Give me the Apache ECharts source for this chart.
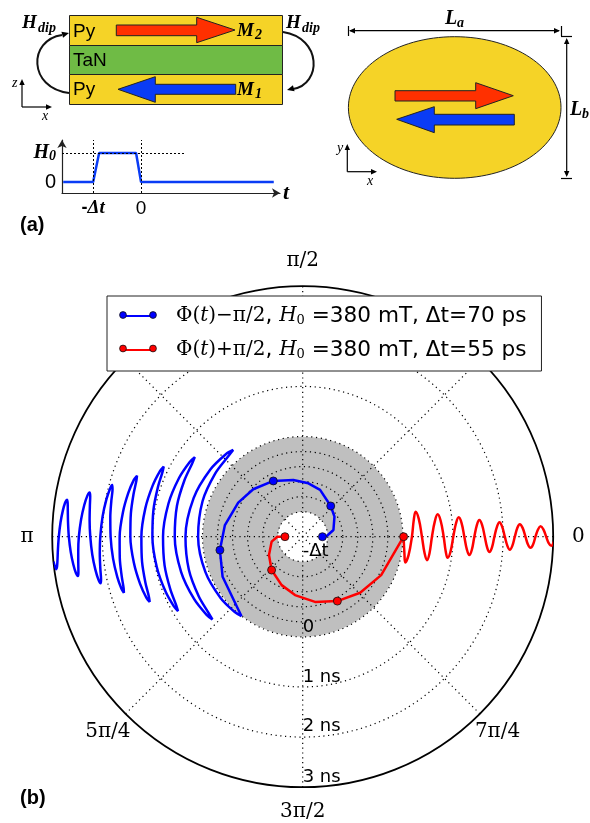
<!DOCTYPE html>
<html><head><meta charset="utf-8">
<style>html,body{margin:0;padding:0;background:#fff}#c{width:590px;height:823px}</style>
<script src="https://cdn.jsdelivr.net/npm/echarts@6/dist/echarts.min.js"></script>
</head><body><div id="c"></div>
<script>
// ---- polar panel data: radial position (ns, axis stretched below 0) and phase (degrees)
const blueDriveTime = [-1.606,-1.52,-1.372,-1.25,-1.17,-1.004,-0.928,-0.852,-0.742,-0.632,-0.544,-0.43,-0.326,-0.212,0.002];
const blueDrivePhase = [0,1.6,12.3,32.3,47.6,69.6,83.9,99.4,117.8,136.2,152.1,171.5,189.2,206.6,232.4];
const blueFreeTime = [0.002,0.0235,0.045,0.0665,0.088,0.121,0.154,0.187,0.22,0.25,0.28,0.31,0.34,0.366,0.392,0.418,0.444,0.4715,0.499,0.5265,0.554,0.5845,0.615,0.6455,0.676,0.704,0.732,0.76,0.788,0.8155,0.843,0.8705,0.898,0.9235,0.949,0.9745,1.0,1.027,1.054,1.081,1.108,1.136,1.164,1.192,1.22,1.245,1.27,1.295,1.32,1.35,1.38,1.41,1.44,1.461,1.482,1.503,1.524,1.5565,1.589,1.6215,1.654,1.6755,1.697,1.7185,1.74,1.7635,1.787,1.8105,1.834,1.86,1.886,1.912,1.938,1.9635,1.989,2.0145,2.04,2.065,2.09,2.115,2.14,2.165,2.19,2.215,2.24,2.266,2.292,2.318,2.344,2.375,2.406,2.437,2.468,2.49,2.512,2.534,2.556,2.584,2.612,2.64,2.668,2.692,2.716,2.74,2.764,2.79,2.816,2.842,2.868,2.8915,2.915,2.9385,2.962,3.0];
const blueFreePhase = [232.4,228.2,216.7,199.9,180,160.5,144.1,132.8,128.7,132.8,144.1,160.5,180,196.2,209.8,219.1,222.5,219.1,209.8,196.2,180,166.2,154.5,146.5,143.6,146.5,154.5,166.2,180,191.7,201.6,208.3,210.8,208.3,201.6,191.7,180,169.8,161.2,155.3,153.2,155.3,161.2,169.8,180,188.8,196.2,201.3,203.1,201.3,196.2,188.8,180,172.3,165.9,161.4,159.8,161.4,165.9,172.3,180,186.6,192.2,196,197.4,196,192.2,186.6,180,174.2,169.4,166,164.8,166,169.4,174.2,180,184.9,189.1,192,193,192,189.1,184.9,180,175.6,171.8,169.2,168.3,169.2,171.8,175.6,180,183.8,186.9,189.1,189.9,189.1,186.9,183.8,180,176.6,173.8,171.8,171.1,171.8,173.8,176.6,180,182.9,185.3,186.9,187.5,185.7];
const blueMarkerTime = [-1.606,-1.17,-0.742,-0.326];
const blueMarkerPhase = [0,47.6,117.8,189.2];
const redDriveTime = [-1.646,-1.494,-1.372,-1.234,-1.09,-0.946,-0.824,-0.676,-0.54,-0.398,-0.256,0.014];
const redDrivePhase = [180,180,189,208.6,227,246.5,262.5,280.7,298.3,315.7,333.9,360];
const redFreeTime = [0.014,0.062,0.11,0.145,0.18,0.244,0.308,0.344,0.38,0.452,0.524,0.552,0.58,0.655,0.73,0.772,0.814,0.869,0.924,0.965,1.006,1.072,1.138,1.182,1.226,1.286,1.346,1.386,1.426,1.484,1.542,1.588,1.634,1.687,1.74,1.783,1.826,1.882,1.938,1.986,2.034,2.088,2.142,2.188,2.234,2.287,2.34,2.393,2.446,2.499,2.552,2.599,2.646,2.699,2.752,2.806,2.86,2.912,2.964,3.014];
const redFreePhase = [0,-9.9,-14.1,-9.9,0,8.75,12.5,8.75,0,-7.5,-10.7,-7.5,0,6.6,9.4,6.6,0,-5.8,-8.3,-5.8,0,5,7.1,5,0,-4.4,-6.3,-4.4,0,3.8,5.4,3.8,0,-3.3,-4.7,-3.3,0,2.9,4.2,2.9,0,-2.5,-3.6,-2.5,0,2.3,3.3,2.3,0,-2,-2.8,-2,0,1.75,2.5,1.75,0,-1.5,-2.1,-1.1];
const redMarkerTime = [-1.646,-1.09,-0.54,0.014];
const redMarkerPhase = [180,227,298.3,360];
// ---- tick labels
const angleTickAngles = [0,90,180,225,270,315];
const angleTickLabels = ['0','π/2','π','5π/4','3π/2','7π/4'];
const radialTickPos = [-1.714,-0.194,0.806,1.786,2.806];
const radialTickLabels = ['-Δt','0','1 ns','2 ns','3 ns'];
// rings, counted in steps of the 0.1 radial interval from -2
const ringSteps = [5,8,11,14,17,20,30,40];
// ---- pulse inset
const pulseT = [-1.625,-1,-0.875,-0.104,0,2.77];
const pulseH = [0,0,1,1,0,0];

const BLUE='#0000ff', RED='#ff0000', PBLUE='#0a3cf5', PRED='#ff3000', YEL='#f5d327', GRN='#6fbb45';
const zip=(a,b)=>a.map((v,i)=>[v,b[i]]);
const SER='"Liberation Serif"', SANS='"Liberation Sans"', DV='"DejaVu Sans"';

const blueName='Φ(t)−π/2, H0=380 mT, Δt=70 ps', redName='Φ(t)+π/2, H0=380 mT, Δt=55 ps';
const lineS=(name,d,c,smooth)=>({type:'line',name,coordinateSystem:'polar',polarIndex:0,data:d,showSymbol:false,symbol:'none',clip:false,smooth,
  lineStyle:{color:c,width:2.5},itemStyle:{color:c},silent:true,z:3,animation:false});
const markS=(d,c)=>({type:'scatter',coordinateSystem:'polar',polarIndex:0,data:d,symbol:'circle',symbolSize:8,clip:false,silent:true,z:4,
  itemStyle:{color:c,borderColor:'#111',borderWidth:0.8,opacity:1}});

const rich={
 m:{fontFamily:'"DejaVu Serif"',fontSize:20,color:'#000'},
 i:{fontFamily:'"DejaVu Serif"',fontStyle:'italic',fontSize:20,color:'#000'},
 s:{fontFamily:'"DejaVu Serif"',fontSize:13,color:'#000',verticalAlign:'bottom',padding:[8,0,0,0]},
 d:{fontFamily:DV,fontSize:21.6,color:'#000'}
};
const legendText=n=> n===blueName
 ? '{m|Φ(}{i|t}{m|)−π/2}{d|, }{i|H}{s|0}{d| =380 mT, Δt=70 ps}'
 : '{m|Φ(}{i|t}{m|)+π/2}{d|, }{i|H}{s|0}{d| =380 mT, Δt=55 ps}';

// ---- schematic (a) helpers
const T=(x,y,text,o={})=>({type:'text',x,y,z:20,style:Object.assign({text,fill:'#000',font:'19px '+SANS,textAlign:'left',textVerticalAlign:'middle'},o)});
const RECT=(x,y,w,h,fill,o={})=>({type:'rect',z:10,shape:{x,y,width:w,height:h},style:Object.assign({fill,stroke:'#222',lineWidth:1},o)});
const POLY=(pts,fill)=>({type:'polygon',z:11,shape:{points:pts},style:{fill,stroke:'#222',lineWidth:1}});
const L=(x1,y1,x2,y2,w=1.2)=>({type:'line',z:11,shape:{x1,y1,x2,y2},style:{stroke:'#000',lineWidth:w}});
const HEAD=(x,y,ang,s=7)=>{const a=ang*Math.PI/180,c=Math.cos(a),si=Math.sin(a);
  const p=(u,v)=>[x+u*c-v*si,y+u*si+v*c];
  return {type:'polygon',z:12,shape:{points:[p(0,0),p(-s,-s*0.45),p(-s,s*0.45)]},style:{fill:'#000'}};};
const BZ=(x1,y1,cpx1,cpy1,cpx2,cpy2,x2,y2)=>({type:'bezierCurve',z:11,shape:{x1,y1,cpx1,cpy1,cpx2,cpy2,x2,y2},style:{fill:'none',stroke:'#111',lineWidth:2}});
const B={font:'bold italic 19px '+SER}, Bs={font:'bold italic 14px '+SER};
const graphics=[
 RECT(69.5,15.5,213,30,YEL),RECT(69.5,45.5,213,29,GRN),RECT(69.5,74.5,213,30,YEL),
 T(73,32,'Py'),T(73,61,'TaN'),T(73,90,'Py'),
 POLY([[116.3,25],[196.7,25],[196.7,17.3],[235,30],[196.7,42.7],[196.7,35.7],[116.3,35.7]],PRED),
 POLY([[118,89.3],[155.3,76.7],[155.3,84.3],[235.7,84.3],[235.7,94.3],[155.3,94.3],[155.3,102.3]],PBLUE),
 T(237,31,'M',B),T(255,35,'2',Bs),T(237,90,'M',B),T(255,94,'1',Bs),
 T(22,23,'H',B),T(38,28,'dip',Bs),T(286,23,'H',B),T(302,28,'dip',Bs),
 BZ(69,93,28,88,28,40,62,35),HEAD(69,33,-15),
 BZ(283,32,322,38,322,84,293,89),HEAD(287,90,165),
 L(22,107,22,81),HEAD(22,79,-90,6),L(22,107,49,107),HEAD(52,107,0,6),
 T(12,83,'z',{font:'italic 14px '+SER}),T(42,116,'x',{font:'italic 14px '+SER}),
 {type:'ellipse',z:10,shape:{cx:454.7,cy:107.5,rx:106.3,ry:70.8},style:{fill:YEL,stroke:'#222',lineWidth:1}},
 POLY([[395,90.7],[475.7,90.7],[475.7,82.7],[513.3,95.7],[475.7,108.7],[475.7,101],[395,101]],PRED),
 POLY([[396.7,119.3],[434.3,106.7],[434.3,114.3],[514.3,114.3],[514.3,125],[434.3,125],[434.3,132.7]],PBLUE),
 L(350,30.7,559,30.7),HEAD(349,30.7,180,6),HEAD(560,30.7,0,6),L(348.5,26,348.5,36),L(561.5,26,561.5,36),L(561,36.5,572,36.5),
 L(566.7,40,566.7,175),HEAD(566.7,38,-90,6),HEAD(566.7,177,90,6),L(561,178.5,572,178.5),
 T(445,19,'L',{font:'bold italic 20px '+SER}),T(457,23,'a',Bs),T(570,110,'L',{font:'bold italic 20px '+SER}),T(582,114,'b',Bs),
 L(347.3,171.7,347.3,146),HEAD(347.3,144,-90,6),L(347.3,171.7,374,171.7),HEAD(377,171.7,0,6),
 T(337,148,'y',{font:'italic 14px '+SER}),T(367,181,'x',{font:'italic 14px '+SER}),
 T(20,225,'(a)',{font:'bold 20px '+SANS}),T(20,798,'(b)',{font:'bold 20px '+SANS}),
 // legend handles
 {type:'circle',z:30,shape:{cx:123,cy:315,r:3.4},style:{fill:BLUE,stroke:'#111',lineWidth:.8}},
 {type:'circle',z:30,shape:{cx:153,cy:315,r:3.4},style:{fill:BLUE,stroke:'#111',lineWidth:.8}},
 {type:'circle',z:30,shape:{cx:123,cy:348.5,r:3.4},style:{fill:RED,stroke:'#111',lineWidth:.8}},
 {type:'circle',z:30,shape:{cx:153,cy:348.5,r:3.4},style:{fill:RED,stroke:'#111',lineWidth:.8}}
];

const ringColor='#000', none='rgba(0,0,0,0)', grey='#bfbfbf';
const dots=[1.2,3.6];
const ringColors=Array.from({length:51},(_,i)=>ringSteps.includes(i)?ringColor:none);
const hidden={show:false};
const option={
 animation:false,backgroundColor:'#fff',
 polar:[{center:[302.7,536.7],radius:[0,250.5]},{center:[302.7,536.7],radius:[25,100]}],
 angleAxis:[{polarIndex:0,type:'value',min:0,max:360,startAngle:0,clockwise:false,interval:45,z:2,
  axisLine:{show:true,lineStyle:{color:'#000',width:1.8}},axisTick:hidden,axisLabel:hidden,
  splitLine:{show:true,lineStyle:{color:ringColor,type:dots,width:1.2}}},
  {polarIndex:1,type:'value',min:0,max:360,startAngle:0,clockwise:false,z:0,axisLine:hidden,axisTick:hidden,axisLabel:hidden,splitLine:hidden}],
 radiusAxis:[{polarIndex:0,type:'value',min:-2,max:3,interval:0.1,z:1,
  axisLine:hidden,axisTick:hidden,axisLabel:hidden,splitArea:hidden,
  splitLine:{show:true,lineStyle:{color:ringColors,type:dots,width:1.2}}},
  {polarIndex:1,type:'value',min:-1.5,max:0,interval:1.5,z:0,axisLine:hidden,axisTick:hidden,axisLabel:hidden,splitLine:hidden,
   splitArea:{show:true,areaStyle:{color:[grey]}}}],
 grid:{left:62,top:140,width:218,height:53},
 xAxis:{type:'value',min:-1.65,max:2.9,splitLine:{show:false},axisLine:{onZero:false,lineStyle:{color:'#222',width:1.2},symbol:['none','arrow'],symbolSize:[7,8]},
  axisTick:{show:false},axisLabel:{customValues:[-1,0],margin:6,formatter:v=>v===-1?'{b|-}{d|Δt}':'{n|0}',hideOverlap:false,
    rich:{b:{fontFamily:SANS,fontWeight:'bold',fontSize:18,color:'#000'},d:{fontFamily:SER,fontWeight:'bold',fontStyle:'italic',fontSize:19,color:'#000'},n:{fontFamily:SANS,fontSize:19,color:'#000'}}},
  name:'t',nameGap:3,nameTextStyle:{fontFamily:SER,fontWeight:'bold',fontStyle:'italic',fontSize:22,color:'#000',verticalAlign:'middle'}},
 yAxis:{type:'value',min:-0.38,max:1.45,splitLine:{show:false},axisLine:{onZero:false,lineStyle:{color:'#222',width:1.2},symbol:['none','arrow'],symbolSize:[7,8]},
  axisTick:{show:false},axisLabel:{customValues:[0,1],margin:6,formatter:v=>v===1?'{h|H}{s|0}':'{n|0}',
    rich:{h:{fontFamily:SER,fontWeight:'bold',fontStyle:'italic',fontSize:20,color:'#000'},s:{fontFamily:SER,fontWeight:'bold',fontStyle:'italic',fontSize:14,color:'#000',padding:[6,0,0,0]},n:{fontFamily:SANS,fontSize:20,color:'#000'}}}},
 legend:{left:107,top:296,orient:'vertical',padding:[9,15,10,15],itemGap:12,itemWidth:30,itemHeight:2,icon:'rect',
  selectedMode:false,backgroundColor:'#fff',borderColor:'#222',borderWidth:1,borderRadius:0,z:6,data:[blueName,redName],
  formatter:legendText,textStyle:{rich,padding:[0,0,0,19]}},
 graphic:graphics,
 series:[
  {type:'line',xAxisIndex:0,yAxisIndex:0,data:zip(pulseT,pulseH),symbol:'none',lineStyle:{color:PBLUE,width:2.5},silent:true,z:3,
   markLine:{silent:true,symbol:'none',label:{show:false},lineStyle:{color:'#000',type:[2,2],width:1},data:[
     [{coord:[-1,-0.38]},{coord:[-1,1.45]}],[{coord:[0,-0.38]},{coord:[0,1.45]}],[{coord:[-1.65,1]},{coord:[0.92,1]}]]}},
  lineS(blueName,zip(blueDriveTime,blueDrivePhase),BLUE,false),
  lineS(blueName,zip(blueFreeTime,blueFreePhase),BLUE,0.3),
  lineS(redName,zip(redDriveTime,redDrivePhase),RED,false),
  lineS(redName,zip(redFreeTime,redFreePhase),RED,0.4),
  markS(zip(blueMarkerTime,blueMarkerPhase),BLUE),
  markS(zip(redMarkerTime,redMarkerPhase),RED),
  {type:'scatter',coordinateSystem:'polar',polarIndex:0,clip:false,silent:true,symbolSize:0,z:5,itemStyle:{opacity:1},
   data:angleTickAngles.map((a,i)=>({value:[3.5,a],name:angleTickLabels[i]})),
   label:{show:true,position:'inside',formatter:p=>p.name,fontFamily:'"DejaVu Serif"',fontSize:20,color:'#000'}},
  {type:'scatter',coordinateSystem:'polar',polarIndex:0,clip:false,silent:true,symbolSize:0,z:5,itemStyle:{opacity:1},
   data:radialTickPos.map((r,i)=>({value:[r,270],name:radialTickLabels[i]})),
   label:{show:true,position:'right',distance:0,formatter:p=>p.name,fontFamily:DV,fontSize:18,color:'#000'}}
 ]
};
echarts.init(document.getElementById('c'),null,{renderer:'canvas'}).setOption(option);
</script></body></html>
